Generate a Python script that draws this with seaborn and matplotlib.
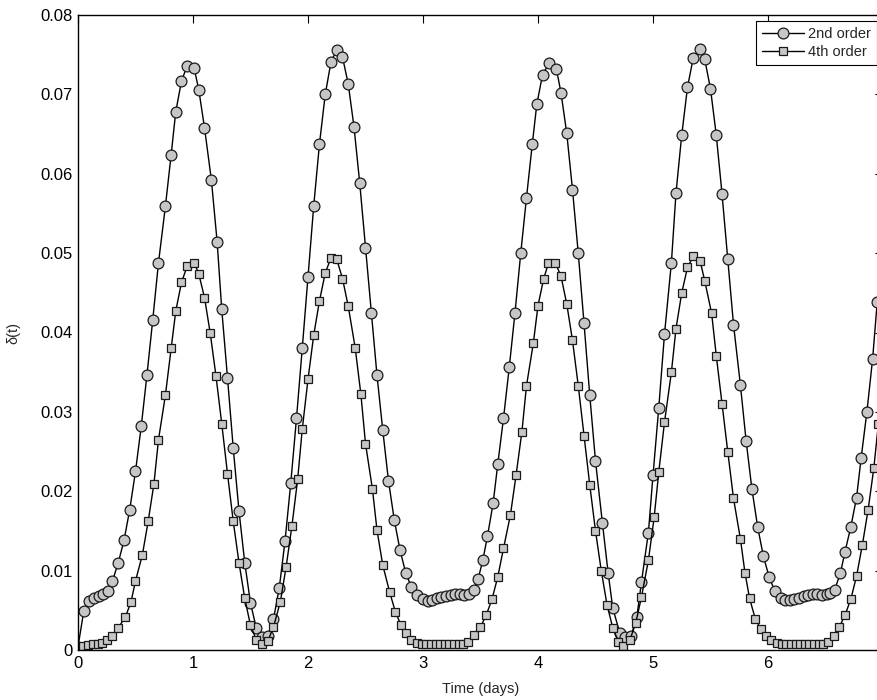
import matplotlib
matplotlib.use("Agg")
import matplotlib.pyplot as plt
import seaborn as sns

# ---------------- data ----------------
t_2nd = [0.00, 0.05, 0.10, 0.14, 0.18, 0.22, 0.26, 0.30, 0.35, 0.40, 0.45, 0.50, 0.55, 0.60,
         0.65, 0.70, 0.76, 0.81, 0.85, 0.90, 0.95, 1.01, 1.05, 1.10, 1.16, 1.21, 1.25, 1.30,
         1.35, 1.40, 1.45, 1.50, 1.55, 1.60, 1.65, 1.70, 1.75, 1.80, 1.85, 1.90, 1.95, 2.00,
         2.05, 2.10, 2.15, 2.20, 2.25, 2.30, 2.35, 2.40, 2.45, 2.50, 2.55, 2.60, 2.65, 2.70,
         2.75, 2.80, 2.85, 2.90, 2.95, 3.00, 3.04, 3.08, 3.12, 3.16, 3.20, 3.24, 3.28, 3.32,
         3.36, 3.40, 3.44, 3.48, 3.52, 3.56, 3.61, 3.65, 3.70, 3.75, 3.80, 3.85, 3.90, 3.95,
         3.99, 4.04, 4.10, 4.16, 4.20, 4.25, 4.30, 4.35, 4.40, 4.45, 4.50, 4.56, 4.61, 4.65,
         4.71, 4.76, 4.81, 4.86, 4.90, 4.96, 5.00, 5.05, 5.10, 5.16, 5.20, 5.25, 5.30, 5.35,
         5.41, 5.45, 5.50, 5.55, 5.60, 5.65, 5.70, 5.76, 5.81, 5.86, 5.91, 5.96, 6.01, 6.06,
         6.11, 6.15, 6.19, 6.23, 6.27, 6.31, 6.35, 6.39, 6.43, 6.47, 6.51, 6.54, 6.58, 6.63,
         6.67, 6.72, 6.77, 6.81, 6.86, 6.91, 6.95]
d_2nd = [0.0004, 0.0049, 0.0062, 0.0066, 0.0068, 0.0070, 0.0074, 0.0087, 0.0110, 0.0138,
         0.0177, 0.0225, 0.0282, 0.0347, 0.0416, 0.0488, 0.0559, 0.0624, 0.0678, 0.0717,
         0.0736, 0.0733, 0.0706, 0.0658, 0.0592, 0.0514, 0.0429, 0.0343, 0.0254, 0.0175,
         0.0110, 0.0059, 0.0028, 0.0016, 0.0018, 0.0039, 0.0078, 0.0137, 0.0210, 0.0292,
         0.0380, 0.0470, 0.0560, 0.0638, 0.0700, 0.0741, 0.0756, 0.0747, 0.0713, 0.0659,
         0.0588, 0.0507, 0.0425, 0.0346, 0.0277, 0.0213, 0.0164, 0.0126, 0.0097, 0.0079,
         0.0069, 0.0064, 0.0062, 0.0063, 0.0065, 0.0067, 0.0068, 0.0069, 0.0070, 0.0070,
         0.0069, 0.0071, 0.0076, 0.0090, 0.0113, 0.0143, 0.0185, 0.0234, 0.0292, 0.0356,
         0.0425, 0.0500, 0.0570, 0.0637, 0.0688, 0.0725, 0.0740, 0.0732, 0.0702, 0.0651,
         0.0580, 0.0500, 0.0412, 0.0321, 0.0238, 0.0160, 0.0097, 0.0053, 0.0022, 0.0016,
         0.0018, 0.0042, 0.0086, 0.0148, 0.0220, 0.0305, 0.0398, 0.0488, 0.0576, 0.0649,
         0.0709, 0.0746, 0.0757, 0.0744, 0.0707, 0.0649, 0.0575, 0.0493, 0.0410, 0.0334,
         0.0263, 0.0203, 0.0155, 0.0118, 0.0092, 0.0074, 0.0066, 0.0063, 0.0063, 0.0064,
         0.0066, 0.0068, 0.0069, 0.0070, 0.0070, 0.0069, 0.0071, 0.0072, 0.0076, 0.0097,
         0.0124, 0.0155, 0.0192, 0.0242, 0.0300, 0.0367, 0.0439]

t_4th = [0.00, 0.04, 0.09, 0.13, 0.17, 0.21, 0.25, 0.30, 0.35, 0.41, 0.46, 0.50, 0.56, 0.61,
         0.66, 0.70, 0.76, 0.81, 0.85, 0.90, 0.95, 1.01, 1.05, 1.10, 1.15, 1.20, 1.25, 1.30,
         1.35, 1.40, 1.45, 1.50, 1.55, 1.60, 1.65, 1.70, 1.76, 1.81, 1.86, 1.91, 1.95, 2.00,
         2.05, 2.10, 2.15, 2.20, 2.25, 2.30, 2.35, 2.41, 2.46, 2.50, 2.56, 2.60, 2.65, 2.71,
         2.76, 2.81, 2.85, 2.90, 2.95, 2.99, 3.03, 3.07, 3.11, 3.15, 3.19, 3.23, 3.27, 3.31,
         3.35, 3.39, 3.44, 3.50, 3.55, 3.60, 3.65, 3.70, 3.76, 3.81, 3.86, 3.90, 3.96, 4.00,
         4.05, 4.09, 4.15, 4.20, 4.25, 4.30, 4.35, 4.40, 4.45, 4.50, 4.55, 4.60, 4.65, 4.70,
         4.74, 4.80, 4.85, 4.90, 4.96, 5.01, 5.05, 5.10, 5.16, 5.20, 5.25, 5.30, 5.35, 5.41,
         5.45, 5.51, 5.55, 5.60, 5.65, 5.70, 5.76, 5.80, 5.84, 5.89, 5.94, 5.98, 6.03, 6.08,
         6.12, 6.16, 6.20, 6.24, 6.28, 6.32, 6.36, 6.40, 6.44, 6.48, 6.52, 6.57, 6.62, 6.67,
         6.72, 6.77, 6.82, 6.87, 6.92, 6.96]
d_4th = [0.0001, 0.0005, 0.0006, 0.0007, 0.0008, 0.0009, 0.0012, 0.0018, 0.0028, 0.0041,
         0.0060, 0.0087, 0.0120, 0.0162, 0.0209, 0.0265, 0.0321, 0.0380, 0.0427, 0.0463,
         0.0484, 0.0488, 0.0474, 0.0444, 0.0399, 0.0345, 0.0285, 0.0222, 0.0162, 0.0110,
         0.0065, 0.0031, 0.0013, 0.0007, 0.0011, 0.0029, 0.0061, 0.0105, 0.0156, 0.0215,
         0.0278, 0.0341, 0.0397, 0.0440, 0.0475, 0.0494, 0.0492, 0.0468, 0.0433, 0.0381,
         0.0322, 0.0260, 0.0203, 0.0151, 0.0107, 0.0073, 0.0048, 0.0031, 0.0021, 0.0013,
         0.0009, 0.0007, 0.0007, 0.0007, 0.0007, 0.0007, 0.0007, 0.0007, 0.0007, 0.0007,
         0.0007, 0.0010, 0.0019, 0.0029, 0.0044, 0.0064, 0.0092, 0.0128, 0.0170, 0.0221,
         0.0275, 0.0333, 0.0387, 0.0434, 0.0468, 0.0487, 0.0488, 0.0471, 0.0436, 0.0390,
         0.0333, 0.0270, 0.0208, 0.0150, 0.0100, 0.0057, 0.0028, 0.0010, 0.0005, 0.0013,
         0.0034, 0.0067, 0.0113, 0.0167, 0.0224, 0.0287, 0.0350, 0.0405, 0.0450, 0.0482,
         0.0496, 0.0490, 0.0465, 0.0424, 0.0371, 0.0310, 0.0250, 0.0191, 0.0140, 0.0097,
         0.0065, 0.0039, 0.0026, 0.0018, 0.0012, 0.0009, 0.0007, 0.0007, 0.0007, 0.0007,
         0.0007, 0.0007, 0.0007, 0.0007, 0.0007, 0.0007, 0.0010, 0.0018, 0.0029, 0.0044,
         0.0064, 0.0093, 0.0132, 0.0176, 0.0229, 0.0285]

x_ticks = [0, 1, 2, 3, 4, 5, 6]
x_tick_labels = ["0", "1", "2", "3", "4", "5", "6"]
y_ticks = [0, 0.01, 0.02, 0.03, 0.04, 0.05, 0.06, 0.07, 0.08]
y_tick_labels = ["0", "0.01", "0.02", "0.03", "0.04", "0.05", "0.06", "0.07", "0.08"]
series_labels = ["2nd order", "4th order"]

# ---------------- style ----------------
sns.set_theme(style="white")
plt.rcParams["font.family"] = ["Liberation Sans", "DejaVu Sans"]

fig = plt.figure(figsize=(8.78, 7.0), dpi=100)
ax = fig.add_axes([78 / 878, 50 / 700, 805 / 878, 635 / 700])

face = "#c6c6c6"
edge = "#1a1a1a"
sns.lineplot(x=t_2nd, y=d_2nd, ax=ax, color="black", linewidth=1.0, marker="o",
             markersize=7.8, markerfacecolor=face, markeredgecolor=edge,
             markeredgewidth=0.9, label=series_labels[0], sort=False, errorbar=None)
sns.lineplot(x=t_4th, y=d_4th, ax=ax, color="black", linewidth=1.0, marker="s",
             markersize=6.2, markerfacecolor=face, markeredgecolor=edge,
             markeredgewidth=0.9, label=series_labels[1], sort=False, errorbar=None)

ax.set_xlim(0, 7)
ax.set_ylim(0, 0.08)
ax.set_xticks(x_ticks)
ax.set_xticklabels(x_tick_labels)
ax.set_yticks(y_ticks)
ax.set_yticklabels(y_tick_labels)
ax.tick_params(direction="in", length=5.8, width=0.8, top=True, right=True,
               labelsize=12, colors="black", pad=4)
for s in ax.spines.values():
    s.set_color("black")
    s.set_linewidth(1.0)

ax.set_xlabel("Time (days)", fontsize=10.5, labelpad=8)
ax.set_ylabel("δ(t)", fontsize=10.5, labelpad=14)

leg = ax.legend(loc="upper right", bbox_to_anchor=(0.9925, 0.99), borderaxespad=0,
                frameon=True, fancybox=False, edgecolor="black", framealpha=1,
                fontsize=10.5, handlelength=2.9, handletextpad=0.3,
                borderpad=0.4, labelspacing=0.25)
leg.get_frame().set_linewidth(0.8)

fig.savefig("out.png", dpi=100)
